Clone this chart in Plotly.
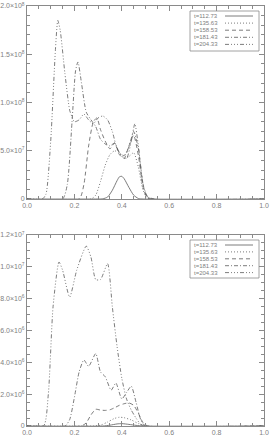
import plotly.graph_objects as go

W, H = 270, 444

labels = ["t=112.73", "t=135.63", "t=158.53", "t=181.43", "t=204.33"]
dashes = ["solid", "1px,2px", "4px,3px", "4px,2px,1px,2px", "4px,2px,1px,2px,1px,2px,1px,2px"]

# ---- Panel 1 data (top) ----
x1_a = [0.0, 0.30, 0.32, 0.34, 0.36, 0.38, 0.39, 0.40, 0.41, 0.43, 0.45, 0.47, 0.49, 1.0]
y1_a = [0, 0, 0.002e8, 0.02e8, 0.09e8, 0.19e8, 0.23e8, 0.235e8, 0.21e8, 0.12e8, 0.04e8, 0.005e8, 0, 0]

x1_b = [0.0, 0.27, 0.29, 0.31, 0.33, 0.35, 0.37, 0.39, 0.41, 0.43, 0.45, 0.47, 0.49, 0.51, 1.0]
y1_b = [0, 0, 0.04e8, 0.18e8, 0.35e8, 0.46e8, 0.50e8, 0.47e8, 0.42e8, 0.44e8, 0.48e8, 0.33e8, 0.09e8, 0.01e8, 0]

x1_c = [0.0, 0.22, 0.24, 0.26, 0.28, 0.295, 0.31, 0.33, 0.35, 0.37, 0.39, 0.41, 0.43, 0.45, 0.47, 0.49, 0.51, 1.0]
y1_c = [0, 0, 0.15e8, 0.55e8, 0.80e8, 0.84e8, 0.72e8, 0.60e8, 0.52e8, 0.58e8, 0.46e8, 0.42e8, 0.55e8, 0.66e8, 0.45e8, 0.12e8, 0.01e8, 0]

x1_d = [0.0, 0.15, 0.17, 0.19, 0.205, 0.215, 0.23, 0.25, 0.27, 0.29, 0.31, 0.33, 0.35, 0.37, 0.39, 0.41, 0.43, 0.45, 0.47, 0.49, 0.51, 1.0]
y1_d = [0, 0, 0.15e8, 0.80e8, 1.33e8, 1.42e8, 1.20e8, 0.90e8, 0.82e8, 0.75e8, 0.62e8, 0.57e8, 0.55e8, 0.58e8, 0.48e8, 0.45e8, 0.54e8, 0.70e8, 0.52e8, 0.15e8, 0.02e8, 0]

x1_e = [0.0, 0.065, 0.08, 0.10, 0.12, 0.13, 0.14, 0.16, 0.18, 0.19, 0.20, 0.22, 0.24, 0.26, 0.28, 0.30, 0.32, 0.34, 0.36, 0.38, 0.40, 0.42, 0.44, 0.455, 0.47, 0.49, 0.51, 0.53, 1.0]
y1_e = [0, 0, 0.05e8, 0.60e8, 1.55e8, 1.85e8, 1.75e8, 1.30e8, 0.92e8, 0.85e8, 0.80e8, 0.82e8, 0.88e8, 0.82e8, 0.78e8, 0.84e8, 0.86e8, 0.82e8, 0.70e8, 0.52e8, 0.45e8, 0.42e8, 0.60e8, 0.78e8, 0.55e8, 0.15e8, 0.02e8, 0, 0]

# ---- Panel 2 data (bottom) ----
x2_a = [0.0, 0.32, 0.35, 0.38, 0.40, 0.43, 0.46, 0.49, 1.0]
y2_a = [0, 0, 0.05e6, 0.13e6, 0.15e6, 0.10e6, 0.04e6, 0, 0]

x2_b = [0.0, 0.28, 0.31, 0.34, 0.37, 0.39, 0.41, 0.44, 0.47, 0.50, 1.0]
y2_b = [0, 0, 0.05e6, 0.25e6, 0.48e6, 0.55e6, 0.52e6, 0.38e6, 0.15e6, 0, 0]

x2_c = [0.0, 0.23, 0.25, 0.27, 0.29, 0.31, 0.33, 0.35, 0.37, 0.39, 0.41, 0.43, 0.45, 0.47, 0.49, 0.51, 1.0]
y2_c = [0, 0, 0.20e6, 0.70e6, 1.05e6, 1.00e6, 0.98e6, 1.02e6, 1.15e6, 1.30e6, 1.40e6, 1.45e6, 1.30e6, 0.80e6, 0.20e6, 0, 0]

x2_d = [0.0, 0.16, 0.18, 0.20, 0.22, 0.24, 0.26, 0.29, 0.31, 0.33, 0.355, 0.375, 0.40, 0.42, 0.44, 0.46, 0.48, 0.50, 1.0]
y2_d = [0, 0, 0.40e6, 1.80e6, 3.40e6, 4.15e6, 3.75e6, 4.55e6, 3.40e6, 3.10e6, 2.25e6, 2.70e6, 1.70e6, 2.10e6, 2.50e6, 1.50e6, 0.40e6, 0, 0]

x2_e = [0.0, 0.07, 0.09, 0.11, 0.135, 0.15, 0.18, 0.21, 0.25, 0.27, 0.29, 0.31, 0.34, 0.36, 0.38, 0.40, 0.42, 0.44, 0.46, 0.48, 0.50, 1.0]
y2_e = [0, 0, 2.0e6, 7.5e6, 10.3e6, 9.8e6, 8.1e6, 9.8e6, 11.3e6, 10.6e6, 9.2e6, 9.2e6, 10.2e6, 7.5e6, 5.0e6, 3.0e6, 1.7e6, 1.0e6, 0.5e6, 0.1e6, 0, 0]

panel1 = [(x1_a, y1_a), (x1_b, y1_b), (x1_c, y1_c), (x1_d, y1_d), (x1_e, y1_e)]
panel2 = [(x2_a, y2_a), (x2_b, y2_b), (x2_c, y2_c), (x2_d, y2_d), (x2_e, y2_e)]

x_ticks = [0.0, 0.2, 0.4, 0.6, 0.8, 1.0]
x_ticktext = ["0.0", "0.2", "0.4", "0.6", "0.8", "1.0"]
y1_ticks = [0, 5e7, 1e8, 1.5e8, 2e8]
y1_ticktext = ["0", "5.0×10<sup>7</sup>", "1.0×10<sup>8</sup>", "1.5×10<sup>8</sup>", "2.0×10<sup>8</sup>"]
y2_ticks = [0, 2e6, 4e6, 6e6, 8e6, 1e7, 1.2e7]
y2_ticktext = ["0", "2.0×10<sup>6</sup>", "4.0×10<sup>6</sup>", "6.0×10<sup>6</sup>",
               "8.0×10<sup>6</sup>", "1.0×10<sup>7</sup>", "1.2×10<sup>7</sup>"]

LINE = "#5a5a5a"
AX = "#8a8a8a"
FONT = dict(family="Liberation Sans", size=7, color="#808080")

fig = go.Figure()
for i, (xs, ys) in enumerate(panel1):
    fig.add_trace(go.Scatter(x=xs, y=ys, mode="lines", name=labels[i], showlegend=False,
                             line=dict(color=LINE, width=0.8, dash=dashes[i], shape="spline", smoothing=0.6),
                             xaxis="x", yaxis="y"))
for i, (xs, ys) in enumerate(panel2):
    fig.add_trace(go.Scatter(x=xs, y=ys, mode="lines", name=labels[i], showlegend=False,
                             line=dict(color=LINE, width=0.8, dash=dashes[i], shape="spline", smoothing=0.6),
                             xaxis="x2", yaxis="y2"))

def px2paper(px, py):
    return px / W, 1 - py / H

# plot boxes in pixels
L, R = 27, 264
T1, B1 = 6, 199
T2, B2 = 235, 426

common_x = dict(range=[0, 1], tickvals=x_ticks, ticktext=x_ticktext, ticks="inside", ticklen=5,
                tickcolor=AX, showline=True, linecolor=AX, linewidth=1, mirror="ticks",
                showgrid=False, zeroline=False, tickfont=FONT, automargin=False,
                minor=dict(dtick=0.05, ticks="inside", ticklen=3, tickcolor=AX, showgrid=False))

fig.update_layout(
    width=W, height=H, margin=dict(l=0, r=0, t=0, b=0),
    paper_bgcolor="white", plot_bgcolor="white", showlegend=False,
    xaxis=dict(domain=[L / W, R / W], anchor="y", **common_x),
    yaxis=dict(domain=[1 - B1 / H, 1 - T1 / H], anchor="x", range=[0, 2e8],
               tickvals=y1_ticks, ticktext=y1_ticktext, ticks="inside", ticklen=5,
               tickcolor=AX, showline=True, linecolor=AX, linewidth=1, mirror="ticks",
               showgrid=False, zeroline=False, tickfont=FONT, automargin=False,
               minor=dict(dtick=1e7, ticks="inside", ticklen=3, tickcolor=AX, showgrid=False)),
    xaxis2=dict(domain=[L / W, R / W], anchor="y2", **common_x),
    yaxis2=dict(domain=[1 - B2 / H, 1 - T2 / H], anchor="x2", range=[0, 1.2e7],
                tickvals=y2_ticks, ticktext=y2_ticktext, ticks="inside", ticklen=5,
                tickcolor=AX, showline=True, linecolor=AX, linewidth=1, mirror="ticks",
                showgrid=False, zeroline=False, tickfont=FONT, automargin=False,
                minor=dict(dtick=5e5, ticks="inside", ticklen=3, tickcolor=AX, showgrid=False)),
)

# manual legends (text left, line sample right), IDL style
shapes = []
annotations = []
for (bx0, by0, bx1, by1, row0, pitch) in [(190, 11, 259, 51, 16, 7.1), (190, 240, 259, 278, 245, 6.9)]:
    x0, y0 = px2paper(bx0, by0)
    x1, y1 = px2paper(bx1, by1)
    shapes.append(dict(type="rect", xref="paper", yref="paper", x0=x0, y0=y1, x1=x1, y1=y0,
                       line=dict(color=AX, width=0.8), fillcolor="rgba(0,0,0,0)"))
    for i, lab in enumerate(labels):
        ry = row0 + i * pitch
        tx, ty = px2paper(192, ry)
        annotations.append(dict(x=tx, y=ty, xref="paper", yref="paper", text=lab, showarrow=False,
                                xanchor="left", yanchor="middle",
                                font=dict(family="Liberation Sans", size=6, color="#808080")))
        lx0, ly = px2paper(225, ry)
        lx1, _ = px2paper(253, ry)
        shapes.append(dict(type="line", xref="paper", yref="paper", x0=lx0, y0=ly, x1=lx1, y1=ly,
                           line=dict(color=LINE, width=0.8, dash=dashes[i])))

fig.update_layout(shapes=shapes, annotations=annotations)
fig.write_html("out.html")
